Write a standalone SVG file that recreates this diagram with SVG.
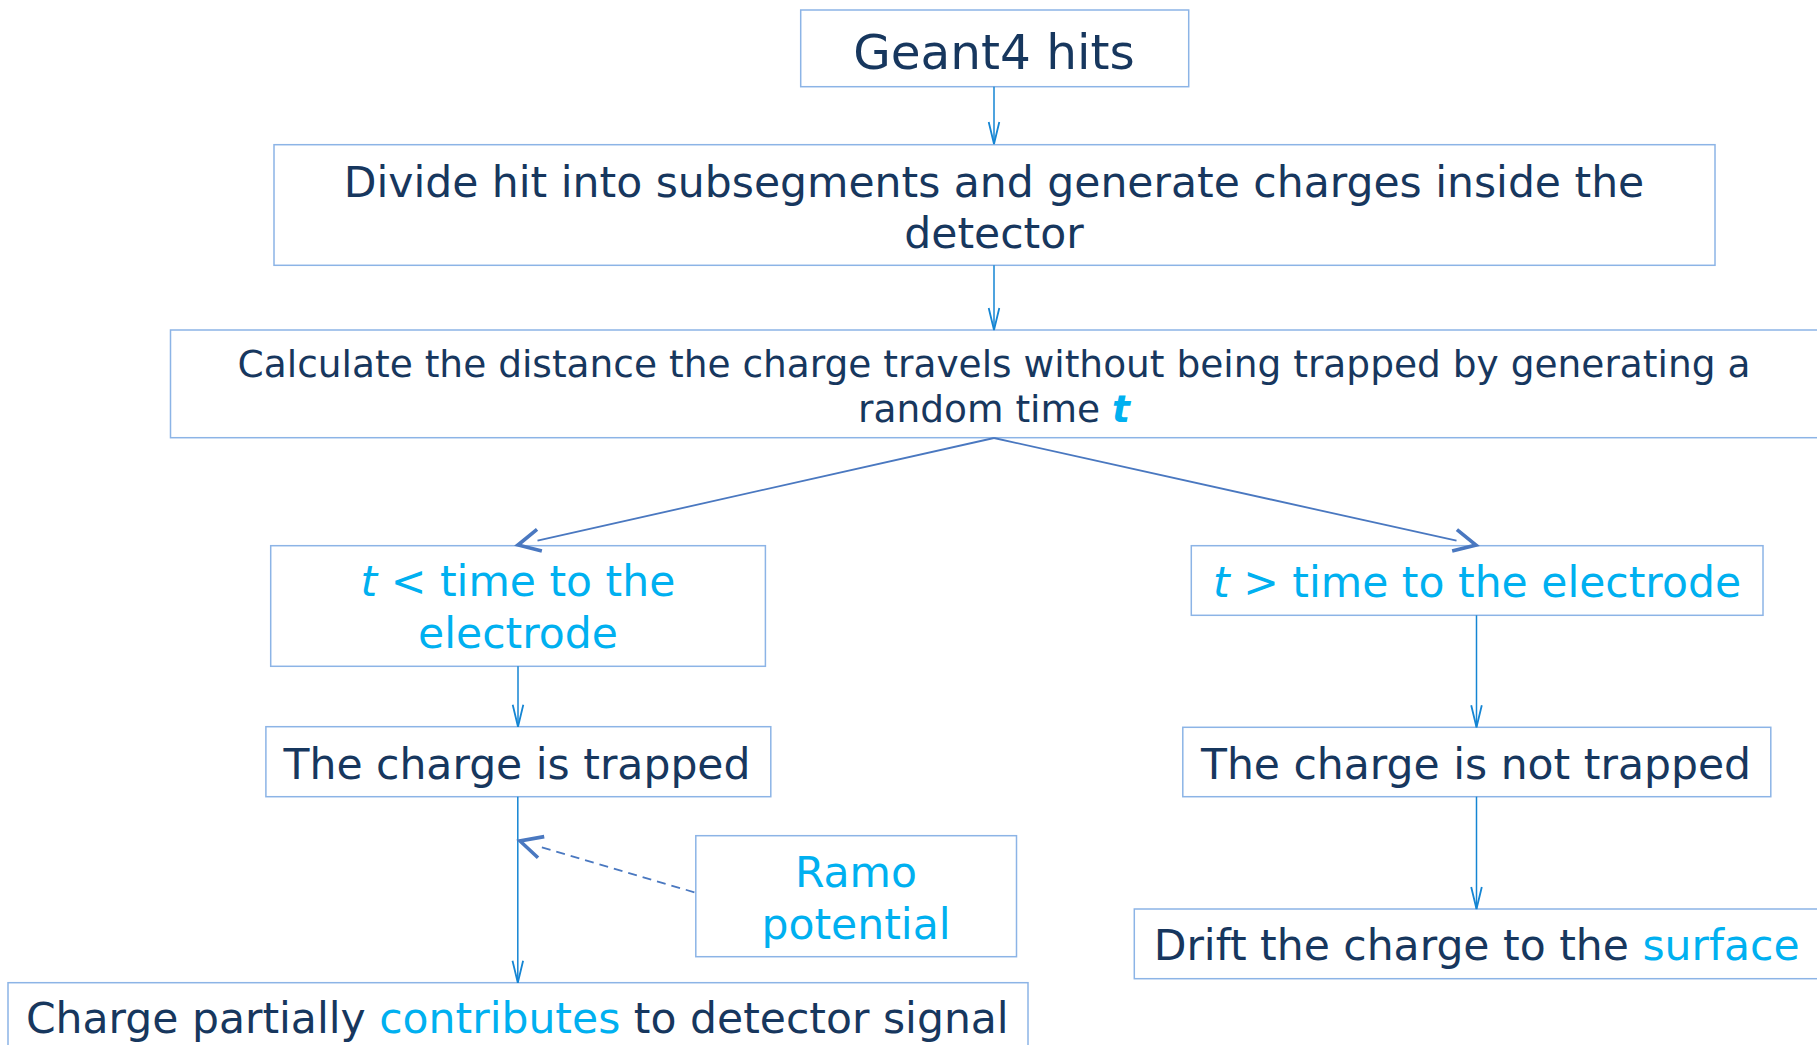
<svg xmlns="http://www.w3.org/2000/svg" width="1817" height="1045" viewBox="0 0 1817 1045">
  <style>
    .box { fill: #ffffff; stroke: #8CB4E6; stroke-width: 1.5; }
    .txt { font-family: "DejaVu Sans", "Liberation Sans", sans-serif; fill: #17375E; text-anchor: middle; }
    .hl { fill: #00B0F0; }
    .flow { fill: none; stroke: #1485D3; stroke-width: 1.5; }
    .branch { fill: none; stroke: #4A78C0; stroke-width: 1.8; }
    .dash { fill: none; stroke: #4A78C0; stroke-width: 1.8; stroke-dasharray: 9 6; }
  </style>
  <defs>
    <marker id="vee" markerUnits="userSpaceOnUse" markerWidth="30" markerHeight="30" refX="0" refY="0" orient="auto" viewBox="-25 -15 30 30" overflow="visible">
      <path d="M-22,-5.3 L0,0 L-22,5.3" fill="none" stroke="#1485D3" stroke-width="1.8"/>
    </marker>
    <!-- open chevron whose tip sits 20px past the end of the line -->
    <marker id="chev" markerUnits="userSpaceOnUse" markerWidth="40" markerHeight="40" refX="-20" refY="0" orient="auto" viewBox="-30 -20 40 40" overflow="visible">
      <path d="M-22,-11 L0,0 L-22,11" fill="none" stroke="#4A78C0" stroke-width="3.6" stroke-linejoin="miter" stroke-linecap="butt"/>
    </marker>
  </defs>

  <rect width="1817" height="1045" fill="#ffffff"/>

  <!-- nodes -->
  <g id="geant4-hits">
    <rect class="box" x="800.7" y="10" width="388" height="76.7"/>
    <text class="txt" x="994" y="69" font-size="48.5">Geant4 hits</text>
  </g>

  <g id="divide-hit">
    <rect class="box" x="274" y="144.7" width="1441" height="120.6"/>
    <text class="txt" x="994" y="196.7" font-size="42.5">Divide hit into subsegments and generate charges inside the</text>
    <text class="txt" x="994" y="247.8" font-size="42.5">detector</text>
  </g>

  <g id="calc-distance">
    <rect class="box" x="170.5" y="330" width="1680" height="107.7"/>
    <text class="txt" x="994" y="376.7" font-size="37.5">Calculate the distance the charge travels without being trapped by generating a</text>
    <text class="txt" x="994" y="421.7" font-size="37.5">random time <tspan class="hl" font-weight="bold" font-style="italic">t</tspan></text>
  </g>

  <g id="t-less">
    <rect class="box" x="270.7" y="545.7" width="494.7" height="120.6"/>
    <text class="txt hl" x="518" y="596.2" font-size="42.5"><tspan font-style="italic">t</tspan> &lt; time to the</text>
    <text class="txt hl" x="518" y="648" font-size="42.5">electrode</text>
  </g>

  <g id="t-greater">
    <rect class="box" x="1191.3" y="545.7" width="571.7" height="69.6"/>
    <text class="txt hl" x="1477" y="597" font-size="42.5"><tspan font-style="italic">t</tspan> &gt; time to the electrode</text>
  </g>

  <g id="trapped">
    <rect class="box" x="265.9" y="726.7" width="504.9" height="70"/>
    <text class="txt" x="517" y="779" font-size="42.5">The charge is trapped</text>
  </g>

  <g id="not-trapped">
    <rect class="box" x="1182.8" y="727.3" width="588" height="69.4"/>
    <text class="txt" x="1476" y="779" font-size="42.5">The charge is not trapped</text>
  </g>

  <g id="ramo">
    <rect class="box" x="695.8" y="835.7" width="320.7" height="121"/>
    <text class="txt hl" x="856" y="887" font-size="42.5">Ramo</text>
    <text class="txt hl" x="856" y="938.5" font-size="42.5">potential</text>
  </g>

  <g id="drift">
    <rect class="box" x="1134.3" y="909" width="720" height="69.7"/>
    <text class="txt" x="1476.6" y="960.3" font-size="42.5">Drift the charge to the <tspan class="hl">surface</tspan></text>
  </g>

  <g id="contributes">
    <rect class="box" x="8" y="982.7" width="1020" height="100"/>
    <text class="txt" x="517.3" y="1033.3" font-size="42.5">Charge partially <tspan class="hl">contributes</tspan> to detector signal</text>
  </g>

  <!-- connectors, drawn over the boxes so the arrowheads stay whole -->
  <g id="connectors">
    <line class="flow" x1="994" y1="86.7" x2="994" y2="144" marker-end="url(#vee)"/>
    <line class="flow" x1="994" y1="265.3" x2="994" y2="330" marker-end="url(#vee)"/>
    <line class="branch" x1="994" y1="438" x2="537.5" y2="540.6" marker-end="url(#chev)"/>
    <line class="branch" x1="994" y1="438" x2="1456.5" y2="540.7" marker-end="url(#chev)"/>
    <line class="flow" x1="518" y1="666.3" x2="518" y2="726.7" marker-end="url(#vee)"/>
    <line class="flow" x1="1476.5" y1="615.3" x2="1476.5" y2="727.3" marker-end="url(#vee)"/>
    <line class="flow" x1="1476.5" y1="796.7" x2="1476.5" y2="909" marker-end="url(#vee)"/>
    <line class="flow" x1="517.8" y1="796.7" x2="517.8" y2="982.7" marker-end="url(#vee)"/>
    <line class="dash" x1="694.4" y1="892.3" x2="539.2" y2="846.6" marker-end="url(#chev)"/>
  </g>
</svg>
